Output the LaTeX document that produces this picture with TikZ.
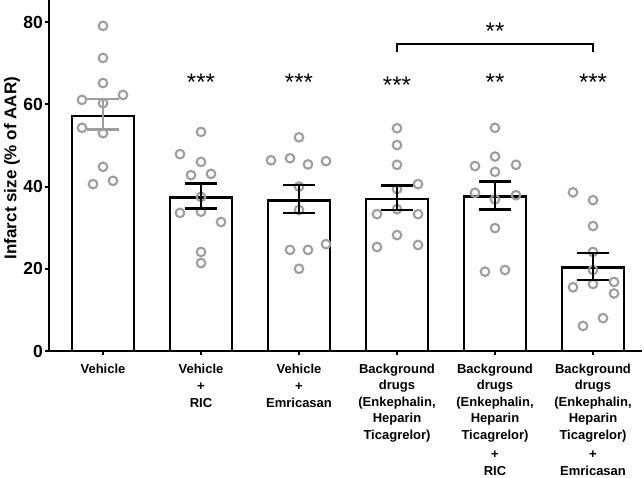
\documentclass[tikz,border=0pt]{standalone}
\usepackage{fontspec}
\setmainfont{Liberation Sans}
\definecolor{ccgris}{RGB}{158,158,158}

\begin{document}
\begin{tikzpicture}[x=1pt, y=4.11pt]

  % Styles
  \tikzstyle{barre} = [line width=2.8pt, black, fill=white]
  \tikzstyle{cercle} = [line width=2.1pt, ccgris]
  \tikzstyle{erreur} = [line width=2.6pt, black]
  \tikzstyle{axe} = [line width=2pt, black]
  \tikzstyle{etoiles} = [font=\fontsize{24}{24}\selectfont, inner sep=0pt, anchor=base]
  \tikzstyle{groupe} = [font=\fontsize{13}{16.5}\selectfont\bfseries, align=center, anchor=north, inner sep=0pt]
  \tikzstyle{graduation} = [font=\fontsize{17.5}{17.5}\selectfont\bfseries, anchor=east, inner sep=0pt]

  \path[use as bounding box] (-49pt,-127pt) rectangle (595pt,351pt);

  % Axes
  \draw[axe] (0,85.4) -- (0,0) -- (593,0);
  \foreach \v in {0,20,...,80} {
    \draw[axe] (-4,\v) -- (0,\v);
    \node[graduation] (y\v) at (-6,\v) {\v};
  }
  \node[rotate=90, font=\fontsize{17}{17}\selectfont\bfseries] (titre) at (-37,44.5) {Infarct size (\% of AAR)};
  \foreach \c in {54,152,250,348,446,544}
    \draw[axe] (\c,0) -- (\c,-1);

  % Barres
  \draw[barre] (23,0) rectangle (85,57.2);
  \draw[barre] (121,0) rectangle (183,37.4);
  \draw[barre] (219,0) rectangle (281,36.7);
  \draw[barre] (317,0) rectangle (379,37.0);
  \draw[barre] (415,0) rectangle (477,37.6);
  \draw[barre] (513,0) rectangle (575,20.3);

  % Points
  \foreach \x/\v in {54/79.1, 54/71.3, 54/65.2, 33/61.1, 54/60.3, 74/62.3, 33/54.3, 54/53.0, 54/44.8, 44/40.6, 64/41.4,
                     152/53.3, 131/47.9, 152/46.0, 142/42.8, 162/43.1, 152/37.5, 131/33.6, 152/33.9, 172/31.4, 152/24.1, 152/21.4,
                     250/52.0, 222/46.4, 241/46.9, 259/45.4, 277/46.2, 250/40.0, 250/34.3, 241/24.6, 259/24.6, 277/26.0, 250/20.0,
                     348/54.2, 348/50.1, 348/45.3, 348/39.4, 348/34.5, 348/28.2, 328/33.3, 328/25.3, 369/40.6, 369/33.3, 369/25.8,
                     446/54.3, 446/47.3, 446/43.6, 426/45.0, 467/45.3, 426/38.5, 446/36.9, 467/37.9, 446/29.9, 436/19.3, 456/19.7,
                     524/38.6, 544/36.7, 544/30.4, 544/24.1, 544/19.7, 544/16.3, 524/15.5, 565/16.8, 565/14.0, 534/6.1, 554/8.0}
    \draw[cercle] (\x,\v) circle[radius=4.3pt];

  % Barres d'erreur
  \draw[erreur, ccgris] (38,61.3) -- (70,61.3) (54,61.3) -- (54,53.9) (38,53.9) -- (70,53.9);
  \foreach \c/\lo/\hi in {152/34.6/40.7, 250/33.6/40.4, 348/34.3/40.2, 446/34.5/41.2, 544/17.3/23.8}
    \draw[erreur] (\c-16,\hi) -- (\c+16,\hi) (\c,\hi) -- (\c,\lo) (\c-16,\lo) -- (\c+16,\lo);

  % Etoiles
  \node[etoiles] (s2) at (152,63.3) {***};
  \node[etoiles] (s3) at (250,63.3) {***};
  \node[etoiles] (s4) at (348,62.6) {***};
  \node[etoiles] (s5) at (446,63.3) {**};
  \node[etoiles] (s6) at (544,63.3) {***};

  % Crochet
  \coordinate (c4) at (348,72.7);
  \coordinate (c6) at (544,72.7);
  \draw[line width=2.2pt] (c4) -- ++(0,2) -| (c6);
  \node[etoiles] (s46) at (446,75.7) {**};

  % Groupes
  \node[groupe] (g1) at (54pt,-12.5pt) {Vehicle};
  \node[groupe] (g2) at (152pt,-12.5pt) {Vehicle\\[1pt]+\\RIC};
  \node[groupe] (g3) at (250pt,-12.5pt) {Vehicle\\[1pt]+\\Emricasan};
  \node[groupe] (g4) at (348pt,-12.5pt) {Background\\drugs\\(Enkephalin,\\Heparin\\Ticagrelor)};
  \node[groupe] (g5) at (446pt,-12.5pt) {Background\\drugs\\(Enkephalin,\\Heparin\\Ticagrelor)\\[3pt]+\\RIC};
  \node[groupe] (g6) at (544pt,-12.5pt) {Background\\drugs\\(Enkephalin,\\Heparin\\Ticagrelor)\\[3pt]+\\Emricasan};

\end{tikzpicture}
\end{document}
